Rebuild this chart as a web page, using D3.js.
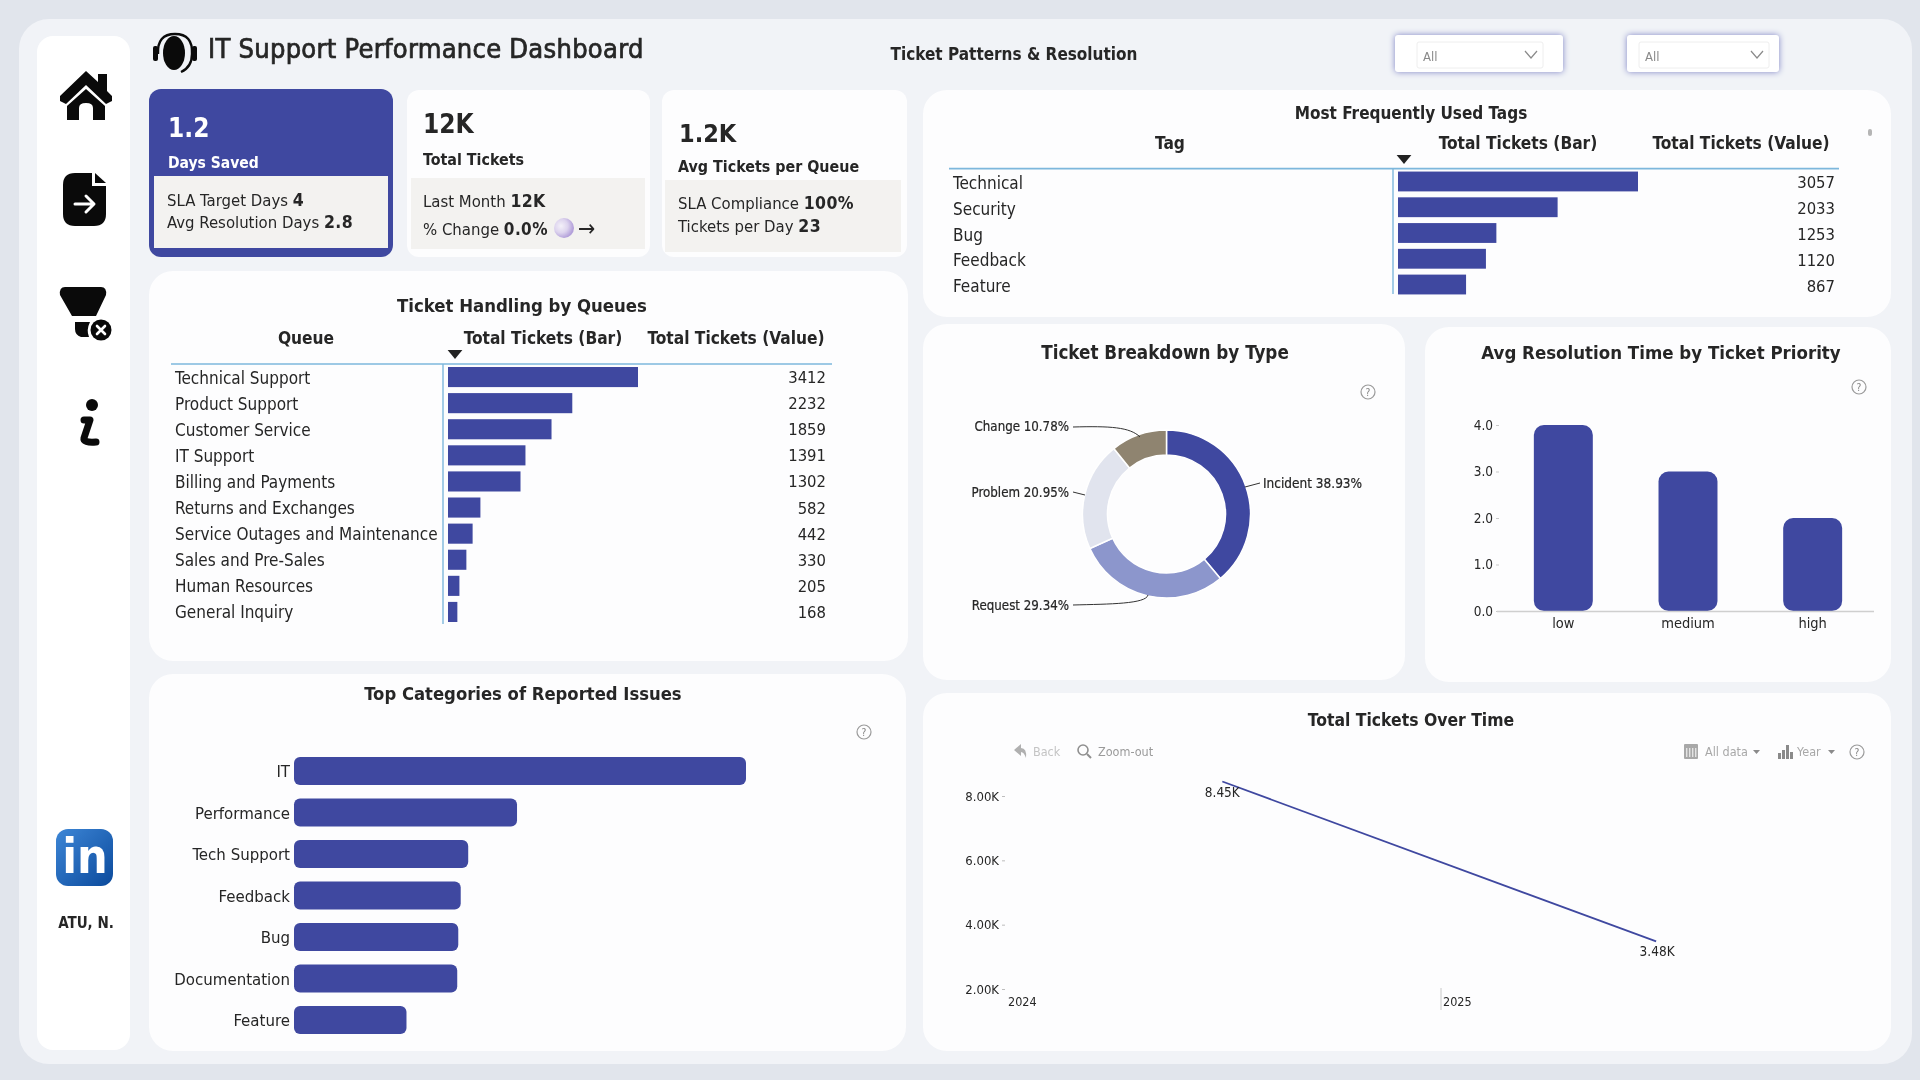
<!DOCTYPE html>
<html><head><meta charset="utf-8">
<script src="https://cdnjs.cloudflare.com/ajax/libs/d3/7.8.5/d3.min.js"></script>
<style>
html,body{margin:0;padding:0;background:#e1e5ec;overflow:hidden}
svg{display:block;filter:blur(.4px)}
text{font-family:"DejaVu Sans Condensed","DejaVu Sans",sans-serif;font-stretch:condensed;fill:#262626}
</style></head><body>
<svg id="c" width="1920" height="1080"></svg>
<script>
// ---------- data ----------
const queueNames = ["Technical Support","Product Support","Customer Service","IT Support","Billing and Payments","Returns and Exchanges","Service Outages and Maintenance","Sales and Pre-Sales","Human Resources","General Inquiry"];
const queueValues = [3412,2232,1859,1391,1302,582,442,330,205,168];
const tagNames = ["Technical","Security","Bug","Feedback","Feature"];
const tagValues = [3057,2033,1253,1120,867];
const typeNames = ["Incident","Request","Problem","Change"];
const typeShares = [38.93,29.34,20.95,10.78];
const priorityNames = ["low","medium","high"];
const priorityDays = [4,3,2];
const priorityTicks = [0,1,2,3,4];
const issueNames = ["IT","Performance","Tech Support","Feedback","Bug","Documentation","Feature"];
const issueValues = [3500,1727,1349,1291,1272,1264,871];
const trendYears = [2024,2025];
const trendTotals = [8450,3480];
const trendTicks = [2000,4000,6000,8000];
const tableHeaderBar = "Total Tickets (Bar)";
const tableHeaderValue = "Total Tickets (Value)";

// ---------- palette ----------
const INDIGO="#3f48a0", TEXT="#262626", PANEL="#fdfdfe", SUB="#f3f2f0", BLUE="#7db7dc", GREY="#9a9a9a";
const typeColors=["#3f48a0","#8c96cc","#e1e4ee","#8f8470"];

const svg=d3.select("#c");
const rect=(x,y,w,h,fill,r=0,g=svg)=>g.append("rect").attr("x",x).attr("y",y).attr("width",w).attr("height",h).attr("rx",r).attr("fill",fill);
const label=(x,y,str,size,opt={},g=svg)=>{
  const t=g.append("text").attr("x",x).attr("y",y).attr("font-size",size).text(str)
    .attr("text-anchor",opt.anchor||"start").attr("dominant-baseline",opt.base||"auto");
  if(opt.bold)t.attr("font-weight","bold");
  if(opt.fill)t.style("fill",opt.fill);
  return t;
};
const centerLabel=(x,y,str,size,opt={})=>label(x,y,str,size,{anchor:"middle",base:"central",...opt});
const helpIcon=(x,y)=>{
  svg.append("circle").attr("cx",x).attr("cy",y).attr("r",7).attr("fill","none").attr("stroke",GREY).attr("stroke-width",1.2);
  centerLabel(x,y,"?",10,{fill:"#808080"});
};

// ---------- background ----------
rect(19,19,1893,1045,"#f1f3f7",30);
rect(37,36,93,1014,"#ffffff",16);
[[149,271,759,390],[149,674,757,377],[923,90,968,227],[923,324,482,356],[1425,327,466,355],[923,693,968,358]]
  .forEach(p=>rect(p[0],p[1],p[2],p[3],PANEL,24));

// ---------- sidebar icons ----------
svg.append("path").attr("fill","#0a0a0a").attr("d","M60 96 L86 71 L98 82 V74 H107 V91 L112 96 L112 101 L106 104 L86 85 L66 104 L60 101 Z M67 106 L86 89 L105 106 V120 H93 V108 Q93 103 86 103 Q79 103 79 108 V120 H67 Z");
svg.append("path").attr("fill","#0a0a0a").attr("d","M75 173 H92 V186 H106 V214 Q106 226 94 226 H75 Q63 226 63 214 V185 Q63 173 75 173 Z");
svg.append("path").attr("fill","#0a0a0a").attr("d","M95 173 L106 183 H95 Z");
svg.append("path").attr("fill","none").attr("stroke","#fff").attr("stroke-width",3).attr("stroke-linecap","round").attr("stroke-linejoin","round").attr("d","M75 204 H93 M86 196 L94 204 L86 212");
svg.append("path").attr("fill","#0a0a0a").attr("d","M65 287 H101 Q107 287 106 295 L96 316 H72 L60 295 Q59 287 65 287 Z M75 322 H90 Q86 330 89 337 H81 Q75 335 75 329 Z");
svg.append("circle").attr("cx",101).attr("cy",330).attr("r",10.5).attr("fill","#0a0a0a");
svg.append("path").attr("stroke","#fff").attr("stroke-width",2.6).attr("stroke-linecap","round").attr("d","M97 326 L105 334 M105 326 L97 334");
svg.append("circle").attr("cx",92).attr("cy",405).attr("r",6).attr("fill","#0a0a0a");
svg.append("path").attr("fill","none").attr("stroke","#0a0a0a").attr("stroke-width",7).attr("stroke-linecap","round").attr("stroke-linejoin","round").attr("d","M84 420 H90 L84 438 Q83 443 96 442");
const defs=svg.append("defs");
const lg=defs.append("linearGradient").attr("id","li").attr("x1",0).attr("y1",0).attr("x2",1).attr("y2",1);
lg.append("stop").attr("offset","0").attr("stop-color","#3d86d6");lg.append("stop").attr("offset","1").attr("stop-color","#0b4a9c");
const mg=defs.append("radialGradient").attr("id","moon").attr("cx",.35).attr("cy",.4).attr("r",.62);
mg.append("stop").attr("offset","0").attr("stop-color","#f4f1f9");mg.append("stop").attr("offset",".55").attr("stop-color","#ddd4ee");mg.append("stop").attr("offset","1").attr("stop-color","#b3a0da");
rect(56,829,57,57,"url(#li)",12);
centerLabel(85,856,"in",48,{bold:true,fill:"#fff"});
centerLabel(86,923,"ATU, N.",15,{bold:true});

// ---------- header ----------
svg.append("ellipse").attr("cx",174).attr("cy",53).attr("rx",11).attr("ry",17).attr("fill","#0a0a0a");
svg.append("path").attr("fill","none").attr("stroke","#0a0a0a").attr("stroke-width",2.4).attr("d","M158 54 Q157 34 175 34 Q193 34 192 54 Q192 67 181 72");
rect(153,46,5,15,"#0a0a0a",2);rect(192,46,5,15,"#0a0a0a",2);
label(208,58,"IT Support Performance Dashboard",27,{}).attr("stroke",TEXT).attr("stroke-width",.7).attr("letter-spacing",.28);
centerLabel(1014,54,"Ticket Patterns & Resolution",17,{bold:true});
[[1395,168,1417,126],[1627,152,1639,130]].forEach(d=>{
  rect(d[0],35,d[1],37,"#fff",3).style("filter","drop-shadow(0 0 3px #7f84c6)");
  rect(d[2],42,d[3],26,"#fff",2).attr("stroke","#eeeeee");
  label(d[2]+6,61,"All",13,{fill:"#8a8a8a"});
  const cx=d[2]+d[3]-12;
  svg.append("path").attr("fill","none").attr("stroke","#8a8a8a").attr("stroke-width",1.2).attr("d",`M${cx-6} 51 L${cx} 58 L${cx+6} 51`);
});

// ---------- KPI cards ----------
rect(149,89,244,168,INDIGO,12);
rect(154,176,234,72,SUB);
rect(407,90,243,167,PANEL,12);
rect(411,178,234,71,SUB);
rect(662,90,245,167,PANEL,12);
rect(665,180,236,72,SUB);
label(168,137,"1.2",26,{bold:true,fill:"#fff"});
label(168,168,"Days Saved",15.5,{bold:true,fill:"#fff"});
const kv=(x,y,k,v,vs=17.5)=>{const t=label(x,y,k+" ",16.6);t.append("tspan").attr("font-weight","bold").attr("font-size",vs).attr("letter-spacing",.4).text(v);return t;};
kv(167,206,"SLA Target Days","4");
kv(167,228,"Avg Resolution Days","2.8");
label(423,133,"12K",26,{bold:true});
label(423,165,"Total Tickets",15.9,{bold:true});
kv(423,207,"Last Month","12K");
kv(423,235,"% Change","0.0%",17);
svg.append("circle").attr("cx",564).attr("cy",228).attr("r",10).attr("fill","url(#moon)");
label(578,236,"→",23);
label(679,142,"1.2K",25,{bold:true});
label(678,172,"Avg Tickets per Queue",15.9,{bold:true});
kv(678,209,"SLA Compliance","100%");
kv(678,232,"Tickets per Day","23");

// ---------- table visuals ----------
function table(o){
  centerLabel(o.titleX,o.titleY,o.title,o.titleSize,{bold:true});
  centerLabel(o.c1,o.hy,o.head,17.2,{bold:true});
  centerLabel(o.c2,o.hy,tableHeaderBar,17.2,{bold:true});
  centerLabel(o.c3,o.hy,tableHeaderValue,17.2,{bold:true});
  svg.append("path").attr("d",d3.symbol(d3.symbolTriangle,60)()).attr("fill","#222").attr("transform",`translate(${o.tri},${o.triY}) rotate(180) scale(1.25,.9)`);
  svg.append("line").attr("x1",o.x0).attr("x2",o.x1).attr("y1",o.top).attr("y2",o.top).attr("stroke",BLUE).attr("stroke-width",1.6);
  svg.append("line").attr("x1",o.vx).attr("x2",o.vx).attr("y1",o.top).attr("y2",o.vEnd).attr("stroke",BLUE).attr("stroke-width",1.4);
  const x=d3.scaleLinear().domain([0,d3.max(o.values)]).range([o.barX,o.barEnd]);
  const y=d3.scaleBand().domain(o.names).range([o.top,o.bottom]).paddingInner(.23).paddingOuter(.115);
  const rows=svg.append("g").selectAll("g").data(o.names.map((n,i)=>({n,v:o.values[i]}))).join("g");
  rows.append("rect").attr("x",x(0)).attr("y",d=>y(d.n)).attr("width",d=>x(d.v)-x(0)).attr("height",y.bandwidth()).attr("fill",INDIGO);
  rows.append("text").attr("x",o.textX).attr("y",d=>y(d.n)+y.bandwidth()/2+o.dy).attr("dominant-baseline","central").attr("font-size",17).text(d=>d.n);
  rows.append("text").attr("x",o.valX).attr("y",d=>y(d.n)+y.bandwidth()/2+o.dy).attr("dominant-baseline","central").attr("text-anchor","end").attr("font-size",16.5).text(d=>d.v);
}
table({title:"Ticket Handling by Queues",titleSize:18.4,titleX:522,titleY:305.5,head:"Queue",hy:337.5,c1:306,c2:543,c3:736,tri:455,triY:353,x0:171,x1:832,top:364,bottom:625,vx:443,vEnd:624,barX:448,barEnd:638,names:queueNames,values:queueValues,textX:175,valX:826,dy:.5});
table({title:"Most Frequently Used Tags",titleSize:17,titleX:1411,titleY:112.5,head:"Tag",hy:142.5,c1:1170,c2:1518,c3:1741,tri:1404,triY:158,x0:949,x1:1839,top:168.6,bottom:297.4,vx:1393,vEnd:294,barX:1398,barEnd:1638,names:tagNames,values:tagValues,textX:953,valX:1835,dy:1.5});
rect(1868,129,4,7,"#b5b5b5",2);

// ---------- donut ----------
centerLabel(1165,352.5,"Ticket Breakdown by Type",18.7,{bold:true});
helpIcon(1368,392);
const pieG=svg.append("g").attr("transform","translate(1166.5,514)");
const pie=d3.pie().sort(null)(typeShares);
const arc=d3.arc().innerRadius(59).outerRadius(84);
pieG.selectAll("path").data(pie).join("path").attr("d",arc).attr("fill",(d,i)=>typeColors[i]).attr("stroke","#fff").attr("stroke-width",1.5);
const leaders=[
 {x:1069,y:426.5,p:"M1073 427 C1110 426 1130 427 1140 437"},
 {x:1069,y:492,p:"M1073 492 L1085 495"},
 {x:1069,y:605,p:"M1073 605 C1110 604 1146 604 1148 595"}
];
const leaderIdx=[3,2,1];
leaders.forEach((l,k)=>{
  const i=leaderIdx[k];
  svg.append("path").attr("d",l.p).attr("fill","none").attr("stroke","#333").attr("stroke-width",1);
  label(l.x,l.y,`${typeNames[i]} ${typeShares[i].toFixed(2)}%`,13.2,{anchor:"end",base:"central"}).attr("stroke",TEXT).attr("stroke-width",.2);
});
svg.append("path").attr("d","M1245 487 L1260 483").attr("fill","none").attr("stroke","#333");
label(1263,483,`${typeNames[0]} ${typeShares[0].toFixed(2)}%`,13.5,{base:"central"}).attr("stroke",TEXT).attr("stroke-width",.2);

// ---------- priority ----------
centerLabel(1661,352.5,"Avg Resolution Time by Ticket Priority",18.5,{bold:true});
helpIcon(1859,387);
const py=d3.scaleLinear().domain([0,4]).range([611,425]);
const px=d3.scaleBand().domain(priorityNames).range([1501,1875]).paddingInner(.527).paddingOuter(.2635);
const pAxisY=svg.append("g").attr("transform","translate(1499,0)").call(d3.axisLeft(py).tickValues(priorityTicks).tickFormat(d3.format(".1f")).tickSize(3));
pAxisY.select(".domain").remove();
pAxisY.selectAll("line").attr("stroke","#c9c9c9");
pAxisY.selectAll("text").attr("font-size",13.5).attr("x",-6);
svg.selectAll(".pbar").data(priorityNames).join("rect").attr("class","pbar")
  .attr("x",d=>px(d)).attr("width",px.bandwidth()).attr("y",(d,i)=>py(priorityDays[i])).attr("height",(d,i)=>py(0)-py(priorityDays[i])).attr("rx",10).attr("fill",INDIGO);
svg.append("line").attr("x1",1497).attr("x2",1874).attr("y1",py(0)+.5).attr("y2",py(0)+.5).attr("stroke","#cfcfcf").attr("stroke-width",1.6);
priorityNames.forEach(n=>centerLabel(px(n)+px.bandwidth()/2,623,n,14.5));

// ---------- issues ----------
centerLabel(523,693.5,"Top Categories of Reported Issues",18.3,{bold:true});
helpIcon(864,732);
const ix=d3.scaleLinear().domain([0,d3.max(issueValues)]).range([294,746]);
const iy=d3.scaleBand().domain(issueNames).range([750.25,1040.75]).paddingInner(.325).paddingOuter(.1625);
svg.selectAll(".ibar").data(issueNames).join("rect").attr("class","ibar")
  .attr("x",ix(0)).attr("y",d=>iy(d)).attr("height",iy.bandwidth()).attr("width",(d,i)=>ix(issueValues[i])-ix(0)).attr("rx",6).attr("fill",INDIGO);
issueNames.forEach(n=>label(290,iy(n)+iy.bandwidth()/2,n,16.7,{anchor:"end",base:"central"}));

// ---------- trend ----------
centerLabel(1411,719.5,"Total Tickets Over Time",17.4,{bold:true});
const tx=d3.scaleTime().domain([new Date(2024,0,1),new Date(2025,0,1)]).range([1006,1441]);
const ty=d3.scaleLinear().domain([2000,8000]).range([989,796]);
const tAxis=svg.append("g").attr("transform","translate(1005,0)").call(d3.axisLeft(ty).tickValues(trendTicks).tickFormat(d=>(d/1000).toFixed(2)+"K").tickSize(3));
tAxis.select(".domain").remove();
tAxis.selectAll("line").attr("stroke","#bdbdbd");
tAxis.selectAll("text").attr("font-size",13).attr("x",-6);
const midYear=y=>new Date(y,6,1);
svg.append("path").datum(trendYears.map((y,i)=>[midYear(y),trendTotals[i]]))
  .attr("d",d3.line().x(d=>tx(d[0])).y(d=>ty(d[1]))).attr("fill","none").attr("stroke",INDIGO).attr("stroke-width",1.8);
const fmtK=d=>(d/1000).toFixed(2)+"K";
centerLabel(tx(midYear(2024)),792,fmtK(trendTotals[0]),13.5);
centerLabel(tx(midYear(2025))+1,951,fmtK(trendTotals[1]),13.5);
trendYears.forEach(y=>{
  const X=tx(new Date(y,0,1));
  label(X+2,1006,String(y),12.5);
  if(y>2024)svg.append("line").attr("x1",X).attr("x2",X).attr("y1",988).attr("y2",1010).attr("stroke","#c8c8c8");
});
// toolbar
svg.append("path").attr("fill","#b0b0b0").attr("d","M1014 750 L1021 744 V748 Q1027 748 1026 758 Q1024 752 1021 752 V756 Z");
label(1033,756,"Back",12.5,{fill:"#c4c4c4"});
svg.append("circle").attr("cx",1083).attr("cy",750).attr("r",5).attr("fill","none").attr("stroke","#8f8f8f").attr("stroke-width",1.6);
svg.append("line").attr("x1",1087).attr("y1",754).attr("x2",1091).attr("y2",758).attr("stroke","#8f8f8f").attr("stroke-width",2);
label(1098,756,"Zoom-out",12.5,{fill:"#9a9a9a"});
rect(1684,744,14,15,"#a8a8a8",1);
[1686,1689,1692,1695].forEach(x=>rect(x,748,1.4,9,"#e4e4e4"));
label(1705,756,"All data",12.5,{fill:"#a8a8a8"});
svg.append("path").attr("fill","#8a8a8a").attr("d","M1753 750 H1760 L1756.5 754 Z");
[[1778,6],[1782,9],[1786,14],[1790,7]].forEach(b=>rect(b[0],759-b[1],3,b[1],"#8a8a8a"));
label(1797,756,"Year",12.5,{fill:"#a8a8a8"});
svg.append("path").attr("fill","#8a8a8a").attr("d","M1828 750 H1835 L1831.5 754 Z");
helpIcon(1857,752);
</script>
</body></html>
